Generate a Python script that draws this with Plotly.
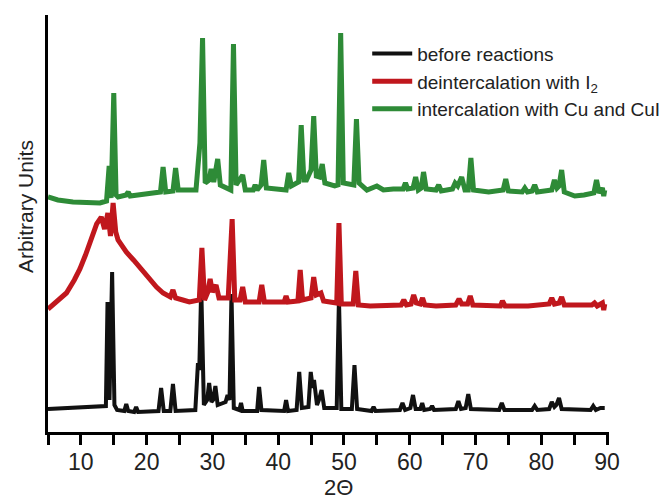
import plotly.graph_objects as go

# ---- data (2-theta in degrees, intensity in arbitrary units) ----
before_x = [5.0, 8, 11, 13.5, 13.8, 14.05, 14.35, 14.75, 15.1, 15.5, 16.6, 16.9, 17.2, 18.1, 18.4, 18.7,
            21.8, 22.2, 22.6, 23.6, 24.0, 24.4, 27.4, 27.8, 28.0, 28.3, 28.7, 29.2, 29.5, 29.85, 30.1, 30.45,
            30.8, 32.0, 32.3, 32.6, 32.9, 33.25, 34.1, 34.35, 34.6, 36.8, 37.1, 37.45, 40.9, 41.2, 41.5,
            42.8, 43.2, 43.6, 44.6, 44.95, 45.25, 45.45, 45.9, 46.2, 46.6, 47.0, 48.9, 49.24, 49.6, 51.2,
            51.6, 52.0, 54.2, 54.5, 54.8, 58.5, 58.9, 59.3, 60.1, 60.5, 60.9, 61.6, 61.9, 62.2, 63.1, 63.4,
            63.7, 67.0, 67.4, 67.8, 68.5, 68.9, 69.3, 73.6, 74.0, 74.4, 78.6, 79.0, 79.4, 81.2, 81.6, 82.0,
            82.3, 82.7, 83.1, 87.5, 87.9, 88.3, 89.0, 89.65]
before_y = [23, 24, 25, 25, 26, 130, 32, 160, 27, 22, 21, 28, 21, 20, 25, 20,
            21, 44, 21, 21, 48, 21, 22, 69, 62, 145, 27, 32, 49, 30, 32, 46,
            27, 30, 37, 32, 138, 24, 22, 29, 21, 21, 45, 22, 21, 32, 21,
            22, 60, 24, 25, 60, 44, 52, 27, 32, 42, 24, 24, 134, 23, 23,
            67, 23, 21, 25, 21, 22, 29, 22, 24, 37, 23, 23, 29, 22, 23, 26,
            22, 23, 31, 23, 24, 38, 23, 22, 29, 22, 22, 26, 22, 23, 30, 25,
            27, 34, 23, 22, 26, 22, 24, 24]

deint_x = [5.0, 6.5, 7.8, 9.0, 9.85, 10.7, 11.4, 12.0, 12.4, 13.1, 13.6, 14.1, 14.5, 14.9, 15.3, 15.65,
           16.9, 18.0, 18.9, 20.0, 21.5, 22.5, 23.6, 24.0, 24.4, 25.5, 26.5, 28.0, 28.4, 28.8, 29.3, 29.65,
           30.0, 30.55, 31.0, 32.4, 33.0, 33.4, 34.2, 34.6, 35.0, 37.1, 37.5, 37.9, 40.9, 41.2, 41.5, 43.0,
           43.35, 43.7, 45.0, 45.4, 45.8, 46.5, 46.9, 48.9, 49.24, 49.6, 51.4, 51.8, 52.2, 54.0, 56.0, 58.7,
           59.1, 59.5, 60.2, 60.6, 61.0, 61.6, 61.95, 62.3, 64.0, 67.0, 67.5, 67.9, 68.8, 69.2, 69.6, 72.0,
           73.8, 74.1, 74.5, 78.0, 81.2, 81.6, 82.0, 82.7, 83.1, 83.5, 87.7, 88.1, 88.5, 89.3, 89.5, 89.65]
deint_y = [123, 131, 139, 152, 163, 177, 190, 201, 208, 215, 203, 219, 196, 229, 200, 192,
           180, 172, 165, 156, 145, 139, 135, 142, 134, 132, 130, 132, 184, 132, 140, 153,
           140, 147, 134, 134, 213, 132, 132, 145, 130, 130, 147, 130, 130, 136, 130, 131,
           162, 132, 134, 155, 137, 139, 131, 129, 209, 128, 128, 161, 127, 126, 126, 127,
           132, 127, 128, 137, 129, 128, 134, 127, 126, 127, 133, 128, 128, 136, 127, 126,
           126, 131, 126, 126, 128, 134, 128, 129, 135, 127, 127, 129, 126, 129, 122, 128]

inter_x = [5.0, 6.5, 8.8, 11.0, 12.9, 13.9, 14.3, 14.6, 15.0, 15.35, 15.65, 16.9, 17.2, 17.5, 20.0, 22.1,
           22.5, 22.9, 24.0, 24.4, 24.8, 27.5, 28.1, 28.5, 28.9, 29.5, 29.8, 30.2, 30.8, 31.2, 32.8, 33.2,
           33.6, 34.6, 35.0, 36.2, 36.5, 36.8, 37.4, 37.8, 38.2, 41.2, 41.6, 42.0, 43.1, 43.5, 43.9, 44.3,
           45.0, 45.4, 45.8, 46.3, 46.7, 47.1, 48.6, 49.1, 49.5, 49.9, 51.5, 51.9, 52.3, 53.5, 55.0, 56.0,
           57.5, 59.0, 59.35, 59.7, 60.5, 60.9, 61.3, 61.75, 62.1, 62.5, 64.0, 64.4, 64.8, 66.5, 66.9, 67.3,
           67.9, 68.4, 68.9, 69.3, 69.7, 72.0, 74.2, 74.6, 75.0, 77.1, 77.5, 77.9, 78.6, 79.0, 79.4, 81.6,
           82.0, 82.4, 82.7, 83.1, 83.5, 85.1, 86.5, 88.0, 88.4, 88.8, 89.3, 89.5, 89.65]
inter_y = [235, 232, 230, 229, 229, 231, 266, 234, 339, 237, 235, 237, 240, 236, 238, 240,
           265, 240, 241, 264, 242, 242, 289, 394, 249, 252, 263, 250, 273, 247, 242, 388,
           247, 257, 242, 242, 247, 242, 247, 272, 244, 242, 259, 246, 250, 307, 252, 252,
           262, 316, 256, 255, 268, 249, 246, 247, 399, 249, 247, 313, 249, 242, 246, 242,
           243, 243, 249, 243, 244, 255, 242, 244, 260, 243, 242, 247, 241, 243, 249, 246,
           255, 242, 242, 274, 242, 240, 242, 253, 241, 240, 244, 240, 241, 247, 240, 242,
           252, 244, 246, 262, 240, 236, 237, 239, 252, 239, 244, 236, 242]

series_names = ["before reactions", "deintercalation with I<sub>2</sub>", "intercalation with Cu and CuI"]
series_colors = ["#111111", "#c0171d", "#2e8b37"]
series_widths = [4, 5, 5]

x_ticks = [10, 20, 30, 40, 50, 60, 70, 80, 90]

FONT = "Liberation Sans, Arial, sans-serif"

# page body has an 8px margin, so the figure is 8px smaller than the window
W, H = 664, 491
ML, MR, MT, MB = 40, 61, 7, 67
PW, PH = W - ML - MR, H - MT - MB   # 563 x 417


def px_x(win_x):
    return (win_x - 8 - ML) / PW


def px_y(win_y):
    return (MT + PH - (win_y - 8)) / PH


fig = go.Figure()
for xs, ys, name, col, w in zip([before_x, deint_x, inter_x], [before_y, deint_y, inter_y],
                                 series_names, series_colors, series_widths):
    fig.add_trace(go.Scatter(x=xs, y=ys, mode="lines", name=name,
                             line=dict(color=col, width=w, shape="linear")))

fig.update_layout(
    width=W, height=H,
    margin=dict(l=ML, r=MR, t=MT, b=MB),
    paper_bgcolor="white", plot_bgcolor="white",
    font=dict(family=FONT, color="#222222"),
    showlegend=True,
    legend=dict(x=0.569, y=0.953, xanchor="left", yanchor="top",
                font=dict(size=19, family=FONT, color="#222222"),
                bgcolor="rgba(0,0,0,0)", itemwidth=40, tracegroupgap=0),
    annotations=[
        dict(text="Arbitrary Units", textangle=-90, xref="paper", yref="paper",
             x=px_x(25), y=px_y(207), xanchor="center", yanchor="middle",
             showarrow=False, font=dict(size=21, family=FONT, color="#222222")),
        dict(text="2Θ", xref="paper", yref="paper",
             x=px_x(340), y=px_y(487), xanchor="center", yanchor="middle",
             showarrow=False, font=dict(size=22, family=FONT, color="#222222")),
    ],
)
fig.update_xaxes(
    range=[5, 90.3], showline=True, linewidth=3, linecolor="black",
    ticks="outside", ticklen=10, tickwidth=3, tickcolor="black",
    tickvals=x_ticks, ticktext=[str(t) for t in x_ticks],
    tickfont=dict(size=23, family=FONT, color="#222222"), ticklabelstandoff=-3,
    minor=dict(ticks="outside", dtick=5, tick0=0, ticklen=10, tickwidth=3, tickcolor="black"),
    showgrid=False, zeroline=False, automargin=False,
)
fig.update_yaxes(
    range=[0, 417], showline=True, linewidth=3, linecolor="black",
    ticks="", showticklabels=False, showgrid=False, zeroline=False, automargin=False,
)

fig.write_html("out.html")
